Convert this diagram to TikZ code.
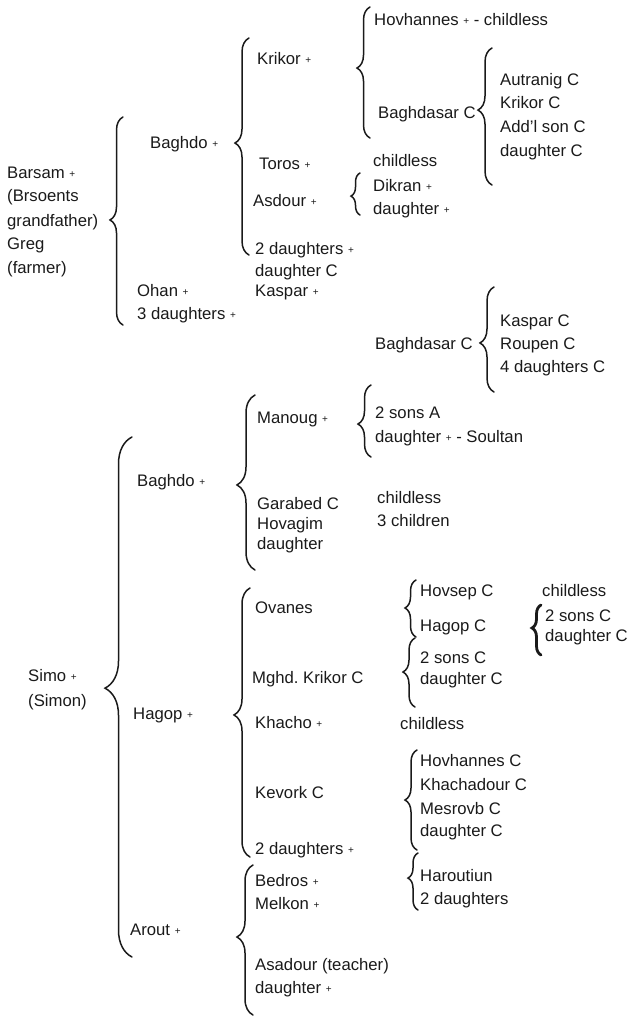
\documentclass[tikz,border=0pt]{standalone}
\usepackage{fontspec}
\setmainfont{Liberation Sans}
\usetikzlibrary{decorations.pathreplacing}
\definecolor{ink}{HTML}{1A1A1A}
% small cross marking the deceased
\newcommand\dec{\raisebox{.8pt}{\fontsize{10}{10}\selectfont +}}
\begin{document}
\begin{tikzpicture}[x=1pt,y=-1pt,
  lbl/.style={anchor=base west, inner sep=0pt, font=\fontsize{16.7}{20}\selectfont, text=ink},
  curly/.style 2 args={draw=ink, line width=1.5pt, line cap=round, decorate,
    decoration={brace, amplitude=#1, aspect=#2}},
  boldcurly/.style 2 args={curly={#1}{#2}, line width=2.8pt}]
\useasboundingbox (0,0) rectangle (629,1017);

% ---------------- Barsam branch ----------------
\node[lbl] (barsam1) at (7,178) {Barsam \dec};
\node[lbl] (barsam2) at (7,201) {(Brsoents};
\node[lbl] (barsam3) at (7,226) {grandfather)};
\node[lbl] (barsam4) at (7,249) {Greg};
\node[lbl] (barsam5) at (7,273) {(farmer)};

\node[lbl] (baghdoA) at (150,148) {Baghdo \dec};
\node[lbl] (ohan) at (137,296) {Ohan \dec};
\node[lbl] (ohanD) at (137,319) {3 daughters \dec};

\node[lbl] (krikorA) at (257,64) {Krikor \dec};
\node[lbl] (toros) at (259,169) {Toros \dec};
\node[lbl] (asdour) at (253,206) {Asdour \dec};
\node[lbl] (daughtersA) at (255,254) {2 daughters \dec};
\node[lbl] (daughterA) at (255,276) {daughter C};
\node[lbl] (kasparA) at (255,296) {Kaspar \dec};

\node[lbl] (hovhannesA) at (374,25) {Hovhannes \dec{} - childless};
\node[lbl] (baghdasarA) at (378,118) {Baghdasar C};
\node[lbl] (autranig) at (500,85) {Autranig C};
\node[lbl] (krikorC) at (500,108) {Krikor C};
\node[lbl] (addl) at (500,132) {Add'l son C};
\node[lbl] (daughterB) at (500,156) {daughter C};

\node[lbl] (torosNone) at (373,166) {childless};
\node[lbl] (dikran) at (373,191) {Dikran \dec};
\node[lbl] (daughterC) at (373,214) {daughter \dec};

\node[lbl] (baghdasarB) at (375,349) {Baghdasar C};
\node[lbl] (kasparC) at (500,326) {Kaspar C};
\node[lbl] (roupen) at (500,349) {Roupen C};
\node[lbl] (daughtersB) at (500,372) {4 daughters C};

\coordinate (b1b) at (123,325); \coordinate (b1t) at (123,117);
\coordinate (b2b) at (249,255); \coordinate (b2t) at (249,38);
\coordinate (b3b) at (370,138); \coordinate (b3t) at (370,7);
\coordinate (b4b) at (492,185); \coordinate (b4t) at (492,48);
\coordinate (b5b) at (360,215); \coordinate (b5t) at (360,173);
\coordinate (b6b) at (494,392); \coordinate (b6t) at (494,287);

\draw[curly={13pt}{0.505}] (b1b) -- (b1t);
\draw[curly={14pt}{0.516}] (b2b) -- (b2t);
\draw[curly={13pt}{0.534}] (b3b) -- (b3t);
\draw[curly={14pt}{0.547}] (b4b) -- (b4t);
\draw[curly={9pt}{0.45}] (b5b) -- (b5t);
\draw[curly={14pt}{0.467}] (b6b) -- (b6t);

% ---------------- Simo branch ----------------
\node[lbl] (simo1) at (28,681) {Simo \dec};
\node[lbl] (simo2) at (28,706) {(Simon)};

\node[lbl] (baghdoB) at (137,486) {Baghdo \dec};
\node[lbl] (hagopA) at (133,719) {Hagop \dec};
\node[lbl] (arout) at (130,935) {Arout \dec};

\node[lbl] (manoug) at (257,423) {Manoug \dec};
\node[lbl] (sonsA) at (375,418) {2 sons A};
\node[lbl] (soultan) at (375,442) {daughter \dec{} - Soultan};
\node[lbl] (garabed) at (257,509) {Garabed C};
\node[lbl] (hovagim) at (257,529) {Hovagim};
\node[lbl] (daughterD) at (257,549) {daughter};
\node[lbl] (garabedNone) at (377,503) {childless};
\node[lbl] (hovagimKids) at (377,526) {3 children};

\node[lbl] (ovanes) at (255,613) {Ovanes};
\node[lbl] (hovsep) at (420,596) {Hovsep C};
\node[lbl] (hagopC) at (420,631) {Hagop C};
\node[lbl] (hovsepNone) at (542,596) {childless};
\node[lbl] (sonsB) at (545,621) {2 sons C};
\node[lbl] (daughterE) at (545,641) {daughter C};

\node[lbl] (mghd) at (252,683) {Mghd.\ Krikor C};
\node[lbl] (sonsC) at (420,663) {2 sons C};
\node[lbl] (daughterF) at (420,684) {daughter C};

\node[lbl] (khacho) at (255,728) {Khacho \dec};
\node[lbl] (khachoNone) at (400,729) {childless};

\node[lbl] (kevork) at (255,798) {Kevork C};
\node[lbl] (hovhannesC) at (420,766) {Hovhannes C};
\node[lbl] (khachadour) at (420,790) {Khachadour C};
\node[lbl] (mesrovb) at (420,814) {Mesrovb C};
\node[lbl] (daughterG) at (420,836) {daughter C};

\node[lbl] (daughtersC) at (255,854) {2 daughters \dec};

\node[lbl] (bedros) at (255,886) {Bedros \dec};
\node[lbl] (melkon) at (255,909) {Melkon \dec};
\node[lbl] (haroutiun) at (420,881) {Haroutiun};
\node[lbl] (daughtersD) at (420,904) {2 daughters};
\node[lbl] (asadour) at (255,970) {Asadour (teacher)};
\node[lbl] (daughterH) at (255,993) {daughter \dec};

\coordinate (b7b) at (132,957); \coordinate (b7t) at (132,437);
\coordinate (b8b) at (255,570); \coordinate (b8t) at (255,395);
\coordinate (b9b) at (371,457); \coordinate (b9t) at (371,385);
\coordinate (b10b) at (250,857); \coordinate (b10t) at (250,588);
\coordinate (b11b) at (416,637); \coordinate (b11t) at (416,580);
\coordinate (b12b) at (541,655); \coordinate (b12t) at (541,605);
\coordinate (b13b) at (415,707); \coordinate (b13t) at (415,638);
\coordinate (b14b) at (417,850); \coordinate (b14t) at (417,750);
\coordinate (b15b) at (253,1015); \coordinate (b15t) at (253,865);
\coordinate (b16b) at (418,910); \coordinate (b16t) at (418,853);

\draw[curly={27pt}{0.517}] (b7b) -- (b7t);
\draw[curly={18pt}{0.486}] (b8b) -- (b8t);
\draw[curly={13pt}{0.458}] (b9b) -- (b9t);
\draw[curly={16pt}{0.528}] (b10b) -- (b10t);
\draw[curly={11pt}{0.509}] (b11b) -- (b11t);
\draw[boldcurly={9pt}{0.54}] (b12b) -- (b12t);
\draw[curly={12pt}{0.507}] (b13b) -- (b13t);
\draw[curly={12pt}{0.5}] (b14b) -- (b14t);
\draw[curly={16pt}{0.52}] (b15b) -- (b15t);
\draw[curly={10pt}{0.56}] (b16b) -- (b16t);
\end{tikzpicture}
\end{document}
